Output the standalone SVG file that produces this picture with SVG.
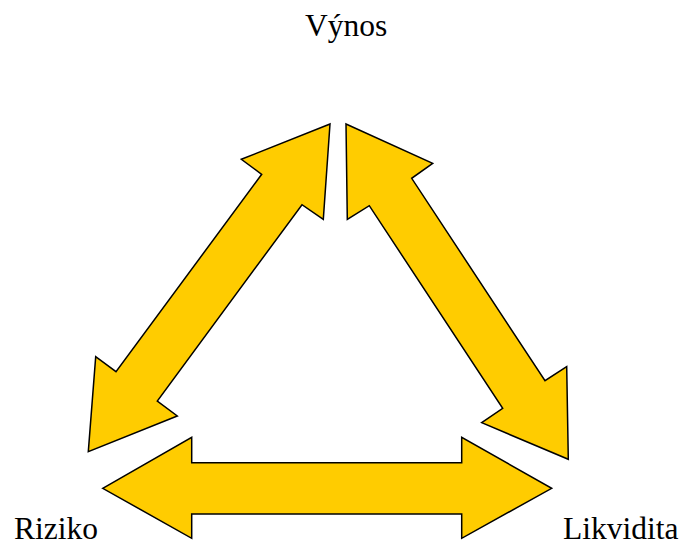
<svg xmlns="http://www.w3.org/2000/svg" width="682" height="545" viewBox="0 0 682 545">
<style>
.arrow{fill:#ffcc00;stroke:#000;stroke-width:1.5;stroke-linejoin:miter}
.lbl{font-family:'Liberation Serif','Times New Roman',serif;font-size:31.5px;fill:#000}
</style>
<rect width="682" height="545" fill="#fff"/>
<g id="connectors">
<polygon id="arrow-left" class="arrow" points="330,124 241.3,159.3 261.7,174.3 116,371.7 95.7,356.7 88.3,451.7 177.3,416 157.3,401 302,204.7 323.3,219.3"/>
<polygon id="arrow-right" class="arrow" points="346,124 432.7,163.3 411.7,178.3 545,380.7 566.7,366.7 568.3,459.3 481.7,422.7 502.7,408.3 369.3,205.7 347.3,219.3"/>
<polygon id="arrow-bottom" class="arrow" points="102.7,488.3 191.7,437.3 191.7,462.7 461.7,462.7 461.7,437.3 551.7,488.3 461.7,538.3 461.7,514 191.7,514 191.7,538.3"/>
</g>
<g id="node-vynos"><text class="lbl" font-family="Liberation Serif, serif" x="305" y="36">Výnos</text></g>
<g id="node-riziko"><text class="lbl" font-family="Liberation Serif, serif" x="14" y="539">Riziko</text></g>
<g id="node-likvidita"><text class="lbl" font-family="Liberation Serif, serif" x="563" y="539">Likvidita</text></g>
</svg>
